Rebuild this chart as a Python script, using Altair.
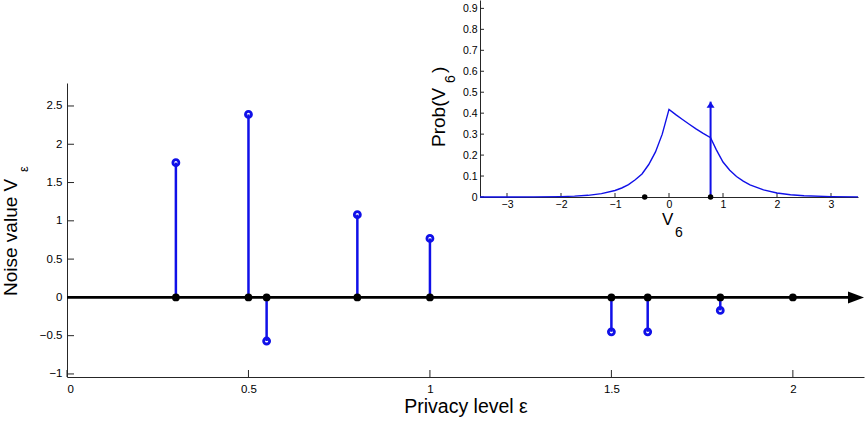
import altair as alt
import pandas as pd

# ---- data -------------------------------------------------------------
# privacy levels eps and the noise value V_eps drawn at each level
privacy_levels = [0.3, 0.5, 0.55, 0.8, 1.0, 1.5, 1.6, 1.8, 2.0]
noise_values = [1.76, 2.39, -0.57, 1.08, 0.77, -0.45, -0.45, -0.17, None]  # last level not drawn yet

x_tick_values = [0, 0.5, 1, 1.5, 2]
y_tick_values = [-1, -0.5, 0, 0.5, 1, 1.5, 2, 2.5]

# density of V6 given the previous noise value
v6_grid = [-3.5, -3.0, -2.5, -2.0, -1.75, -1.5, -1.25, -1.0, -0.875, -0.75, -0.625,
           -0.5, -0.375, -0.25, -0.125, 0.0, 0.125, 0.25, 0.375, 0.5, 0.625, 0.77,
           0.875, 1.0, 1.125, 1.25, 1.375, 1.5, 1.75, 2.0, 2.25, 2.5, 3.0, 3.5]
v6_prob = [0.0001, 0.0002, 0.0006, 0.002, 0.004, 0.008, 0.016, 0.031, 0.043, 0.059, 0.082,
           0.110, 0.155, 0.215, 0.300, 0.418, 0.393, 0.370, 0.347, 0.325, 0.305, 0.283,
           0.226, 0.167, 0.128, 0.098, 0.076, 0.058, 0.034, 0.019, 0.011, 0.006, 0.002, 0.0007]
v6_arrow_top = 0.455
inset_x_ticks = [-3, -2, -1, 0, 1, 2, 3]
inset_y_ticks = [0, 0.1, 0.2, 0.3, 0.4, 0.5, 0.6, 0.7, 0.8, 0.9]

# ---- styling -----------------------------------------------------------
FONT = "Liberation Sans"
BLUE = "#1010e8"
AXIS_COLOR = "#262626"

X_DOM, Y_DOM, Y_RANGE = [0, 2.196], [-1.04, 2.8], [377, 83]
IX_DOM, IX_RANGE = [-3.5, 3.5], [413, 791]
IY_DOM, IY_RANGE = [0, 0.94], [197, 0]

common_axis = dict(ticks=False, grid=False, title=None, format="~g",
                   domainColor=AXIS_COLOR, domainWidth=1, labelFont=FONT,
                   labelColor="black")

xs = alt.Scale(domain=X_DOM, nice=False, zero=False)
ys = alt.Scale(domain=Y_DOM, range=Y_RANGE, nice=False, zero=False)
xa = alt.Axis(values=x_tick_values, labelPadding=6, labelFontSize=11.5, **common_axis)
ya = alt.Axis(values=y_tick_values, labelPadding=5, labelFontSize=11.5, **common_axis)

ixs = alt.Scale(domain=IX_DOM, range=IX_RANGE, nice=False, zero=False)
iys = alt.Scale(domain=IY_DOM, range=IY_RANGE, nice=False, zero=False)
ixa = alt.Axis(values=inset_x_ticks, orient="bottom", offset=-(377 - 197),
               labelPadding=2, labelFontSize=10.5, **common_axis)
iya = alt.Axis(values=inset_y_ticks, orient="left", offset=-413,
               labelPadding=3, labelFontSize=10.5, **common_axis)


def X(field):
    return alt.X(field, type="quantitative", scale=xs, axis=xa)


def Y(field):
    return alt.Y(field, type="quantitative", scale=ys, axis=ya)


def IX(field):
    return alt.X(field, type="quantitative", scale=ixs, axis=ixa)


def IY(field):
    return alt.Y(field, type="quantitative", scale=iys, axis=iya)


# ---- main stem plot -----------------------------------------------------
levels = pd.DataFrame({"eps": privacy_levels, "v": noise_values, "zero": 0.0})
drawn = levels.dropna()

stems = alt.Chart(drawn).mark_rule(color=BLUE, strokeWidth=2.5).encode(
    x=X("eps"), y=Y("zero"), y2="v")
heads = alt.Chart(drawn).mark_point(shape="circle", filled=False, color=BLUE,
                                    size=36, strokeWidth=2.8, opacity=1).encode(
    x=X("eps"), y=Y("v"))

axis_line = pd.DataFrame({"eps": [X_DOM[0]], "eps_end": [X_DOM[1]], "zero": [0.0]})
zero_line = alt.Chart(axis_line).mark_rule(color="black", strokeWidth=2.7, x2Offset=-8).encode(
    x=X("eps"), x2="eps_end", y=Y("zero"))
arrow_tip = alt.Chart(axis_line).mark_point(
    shape="M-1,-0.75L1,0L-1,0.75Z", filled=True, color="black", size=256,
    strokeWidth=0, opacity=1, xOffset=-8).encode(x=X("eps_end"), y=Y("zero"))
bases = alt.Chart(levels).mark_point(shape="circle", filled=True, color="black",
                                     size=60, opacity=1).encode(
    x=X("eps"), y=Y("zero"))

# inward tick marks
xt = pd.DataFrame({"eps": x_tick_values, "v": Y_DOM[0]})
yt = pd.DataFrame({"eps": X_DOM[0], "v": y_tick_values})
x_ticks = alt.Chart(xt).mark_rule(color=AXIS_COLOR, strokeWidth=1, y2Offset=-7).encode(
    x=X("eps"), y=Y("v"), y2="v")
y_ticks = alt.Chart(yt).mark_rule(color=AXIS_COLOR, strokeWidth=1, x2Offset=7).encode(
    x=X("eps"), x2="eps", y=Y("v"))

main = alt.layer(x_ticks, y_ticks, stems, heads, zero_line, arrow_tip, bases)

# ---- inset: density of V6 --------------------------------------------------
density = pd.DataFrame({"v6": v6_grid, "p": v6_prob})
prev_v, cur_v = noise_values[4], noise_values[5]

curve = alt.Chart(density).mark_line(color=BLUE, strokeWidth=1.4).encode(
    x=IX("v6"), y=IY("p"))
arrow = pd.DataFrame({"v6": [prev_v], "p0": [0.0], "p1": [v6_arrow_top]})
arrow_shaft = alt.Chart(arrow).mark_rule(color=BLUE, strokeWidth=2).encode(
    x=IX("v6"), y=IY("p0"), y2="p1")
arrow_head = alt.Chart(arrow).mark_point(
    shape="M0,-0.75L1,0.75L-1,0.75Z", filled=True, color=BLUE, size=64,
    strokeWidth=0, opacity=1, yOffset=3).encode(x=IX("v6"), y=IY("p1"))
marks = pd.DataFrame({"v6": [cur_v, prev_v], "p": [0.0, 0.0]})
inset_dots = alt.Chart(marks).mark_point(shape="circle", filled=True, color="black",
                                         size=30, opacity=1).encode(
    x=IX("v6"), y=IY("p"))

ixt = pd.DataFrame({"v6": inset_x_ticks, "p": IY_DOM[0]})
iyt = pd.DataFrame({"v6": IX_DOM[0], "p": inset_y_ticks})
ix_ticks = alt.Chart(ixt).mark_rule(color=AXIS_COLOR, strokeWidth=1, y2Offset=-4).encode(
    x=IX("v6"), y=IY("p"), y2="p")
iy_ticks = alt.Chart(iyt).mark_rule(color=AXIS_COLOR, strokeWidth=1, x2Offset=4).encode(
    x=IX("v6"), x2="v6", y=IY("p"))

inset = alt.layer(ix_ticks, iy_ticks, curve, arrow_shaft, arrow_head, inset_dots)


# ---- axis titles (with subscripts) ------------------------------------------
def label(text, x, y, size, angle=0, align="left"):
    return alt.Chart(alt.Data(values=[{}])).mark_text(
        text=text, fontSize=size, angle=angle, align=align, baseline="alphabetic",
        font=FONT, color="black").encode(x=alt.value(x), y=alt.value(y))


titles = [
    label("Privacy level ε", 399, 413, 19.5, align="center"),
    label("Noise value V", -50, 296, 19, angle=270),
    label("ε", -39, 172, 13, angle=270),
    label("Prob(V", 378, 147, 19, angle=270),
    label("6", 388, 83, 14, angle=270),
    label(")", 378, 73, 19, angle=270),
    label("V", 595, 225, 17),
    label("6", 608, 237, 14),
]

chart = alt.layer(main, inset, *titles).resolve_scale(
    x="independent", y="independent"
).properties(
    width=797, height=377,
    autosize=alt.AutoSizeParams(type="none"),
    padding={"left": 67, "top": 0, "right": 4, "bottom": 45},
).configure_view(stroke=None)

chart.save("out.html", embed_options={"renderer": "svg", "actions": False})
